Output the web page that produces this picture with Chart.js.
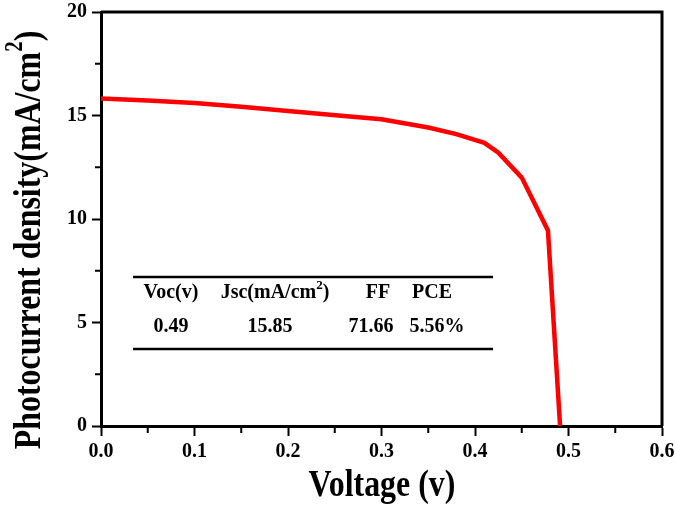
<!DOCTYPE html>
<html>
<head>
<meta charset="utf-8">
<script src="https://cdn.jsdelivr.net/npm/chart.js@4.4.1/dist/chart.umd.min.js"></script>
<style>
  html, body { margin: 0; padding: 0; background: #fff; }
  #wrap { width: 675px; height: 508px; }
</style>
</head>
<body>
<div id="wrap"><canvas id="myChart" width="675" height="508"></canvas></div>
<script>
// J-V curve
const voltage = [0, 0.05, 0.1, 0.15, 0.2, 0.26, 0.3, 0.35, 0.38, 0.41, 0.425, 0.45, 0.478, 0.491];
const current = [15.82, 15.72, 15.6, 15.42, 15.22, 14.98, 14.82, 14.42, 14.1, 13.68, 13.2, 12.0, 9.45, 0];

const xTicks = [0, 0.1, 0.2, 0.3, 0.4, 0.5, 0.6];
const yTicks = [0, 5, 10, 15, 20];
const tableHeaders = ['Voc(v)', 'Jsc(mA/cm', 'FF', 'PCE'];
const tableValues = ['0.49', '15.85', '71.66', '5.56%'];

const SERIF = '"Liberation Serif", "Times New Roman", serif';

function squeezed(ctx, text, x, y, size, align, sx) {
  ctx.save();
  ctx.translate(x, y);
  ctx.scale(sx, 1);
  ctx.font = 'bold ' + size + 'px ' + SERIF;
  ctx.textAlign = align;
  ctx.textBaseline = 'middle';
  ctx.fillStyle = '#000';
  ctx.fillText(text, 0, 0);
  ctx.restore();
}

const decorations = {
  id: 'decorations',
  afterDraw(chart) {
    const ctx = chart.ctx;
    const a = chart.chartArea;
    const xs = chart.scales.x, ys = chart.scales.y;

    // frame (top + right)
    ctx.save();
    ctx.strokeStyle = '#000';
    ctx.lineWidth = 3;
    ctx.beginPath();
    ctx.moveTo(a.left, a.top);
    ctx.lineTo(a.right, a.top);
    ctx.lineTo(a.right, a.bottom);
    ctx.stroke();

    // minor ticks
    ctx.lineWidth = 2;
    ctx.beginPath();
    for (let v = 0.05; v < 0.6; v += 0.1) {
      const px = xs.getPixelForValue(v);
      ctx.moveTo(px, a.bottom);
      ctx.lineTo(px, a.bottom + 7);
    }
    for (let v = 2.5; v < 20; v += 5) {
      const py = ys.getPixelForValue(v);
      ctx.moveTo(a.left, py);
      ctx.lineTo(a.left - 6, py);
    }
    ctx.stroke();
    ctx.restore();

    // tick labels
    xTicks.forEach(v => squeezed(ctx, v.toFixed(1), xs.getPixelForValue(v), 452, 21, 'center', 0.95));
    yTicks.forEach(v => squeezed(ctx, String(v), 87, ys.getPixelForValue(v), 21, 'right', 0.95));

    // axis titles
    squeezed(ctx, 'Voltage (v)', 382, 486, 38, 'center', 0.84);

    ctx.save();
    ctx.translate(30, 240);
    ctx.rotate(-Math.PI / 2);
    ctx.scale(0.84, 1);
    ctx.fillStyle = '#000';
    ctx.textBaseline = 'middle';
    ctx.textAlign = 'left';
    const big = 'bold 38px ' + SERIF, small = 'bold 25px ' + SERIF;
    ctx.font = big;
    const t1 = 'Photocurrent density(mA/cm', t3 = ')';
    const w1 = ctx.measureText(t1).width, w3 = ctx.measureText(t3).width;
    ctx.font = small;
    const w2 = ctx.measureText('2').width;
    let x0 = -(w1 + w2 + w3) / 2;
    ctx.font = big;
    ctx.fillText(t1, x0, 0);
    ctx.font = small;
    ctx.fillText('2', x0 + w1, -14);
    ctx.font = big;
    ctx.fillText(t3, x0 + w1 + w2, 0);
    ctx.restore();

    // inset table
    ctx.save();
    ctx.strokeStyle = '#000';
    ctx.lineWidth = 2.5;
    ctx.beginPath();
    ctx.moveTo(133, 277); ctx.lineTo(493, 277);
    ctx.moveTo(133, 349); ctx.lineTo(493, 349);
    ctx.stroke();
    ctx.restore();

    const headX = [171, 275, 378, 432];
    const valX = [171, 270, 371, 437];
    const hy = 293, vy = 327;
    tableHeaders.forEach((h, i) => {
      if (i === 1) {
        ctx.save();
        ctx.font = 'bold 20px ' + SERIF;
        const wa = ctx.measureText(h).width;
        const wc = ctx.measureText(')').width;
        ctx.font = 'bold 13px ' + SERIF;
        const wb = ctx.measureText('2').width;
        ctx.restore();
        const left = headX[i] - (wa + wb + wc) / 2;
        squeezed(ctx, h, left, hy, 20, 'left', 1);
        squeezed(ctx, '2', left + wa, hy - 7, 13, 'left', 1);
        squeezed(ctx, ')', left + wa + wb, hy, 20, 'left', 1);
      } else {
        squeezed(ctx, h, headX[i], hy, 20, 'center', 1);
      }
    });
    tableValues.forEach((v, i) => squeezed(ctx, v, valX[i], vy, 20, 'center', 1));
  }
};

const config = {
  type: 'scatter',
  data: {
    datasets: [
      {
        label: 'J-V',
        data: voltage.map((v, i) => ({ x: v, y: current[i] })),
        showLine: true,
        borderColor: 'rgb(255, 0, 0)',
        backgroundColor: 'rgb(255, 0, 0)',
        borderWidth: 4.5,
        pointRadius: 0,
        tension: 0
      }
    ]
  },
  options: {
    responsive: false,
    animation: false,
    layout: { padding: { top: 12, right: 13, left: 0, bottom: 0 } },
    plugins: {
      legend: { display: false },
      tooltip: { enabled: false }
    },
    scales: {
      x: {
        type: 'linear',
        min: 0,
        max: 0.6,
        afterFit: (s) => { s.height = 82; },
        afterBuildTicks: (s) => { s.ticks = xTicks.map(v => ({ value: v })); },
        ticks: { display: false },
        grid: { drawOnChartArea: false, drawTicks: true, tickLength: 10, tickColor: '#000', tickWidth: 2 },
        border: { display: true, color: '#000', width: 3 }
      },
      y: {
        min: 0,
        max: 20,
        afterFit: (s) => { s.width = 101; },
        afterBuildTicks: (s) => { s.ticks = yTicks.map(v => ({ value: v })); },
        ticks: { display: false },
        grid: { drawOnChartArea: false, drawTicks: true, tickLength: 9, tickColor: '#000', tickWidth: 2 },
        border: { display: true, color: '#000', width: 3 }
      }
    }
  },
  plugins: [decorations]
};

const ctx = document.getElementById('myChart');
const myChart = new Chart(ctx, config);
</script>
</body>
</html>
